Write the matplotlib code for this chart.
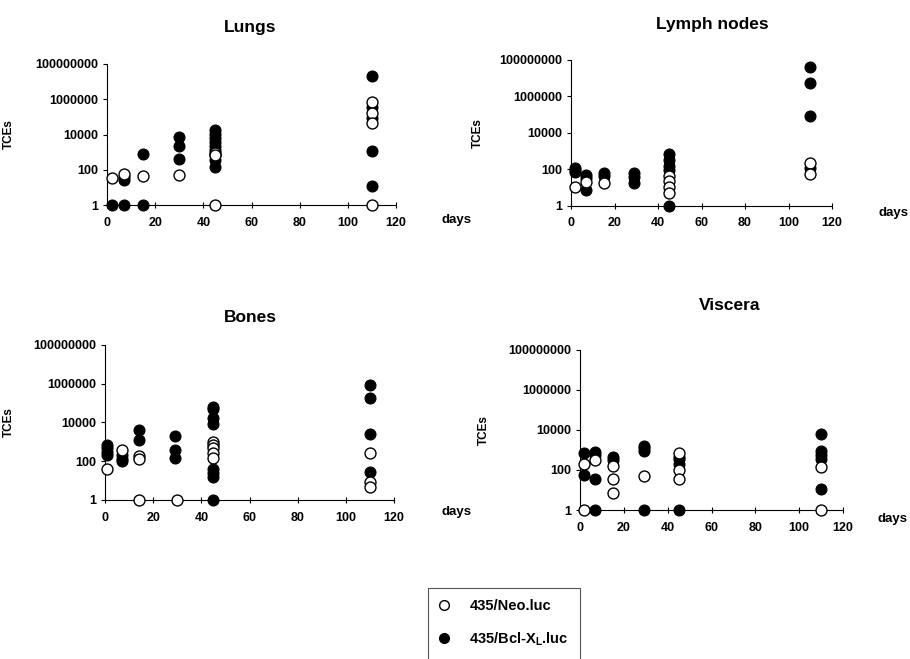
import matplotlib.pyplot as plt
from matplotlib.patches import Rectangle
from matplotlib.lines import Line2D

plt.rcParams['font.family'] = ['Liberation Sans', 'DejaVu Sans']
plt.rcParams['font.weight'] = 'bold'
plt.rcParams['mathtext.fontset'] = 'custom'
plt.rcParams['mathtext.rm'] = 'Liberation Sans:bold'
plt.rcParams['mathtext.bf'] = 'Liberation Sans:bold'

# values are log10(TCEs)
lungs_neo_days = [2, 7, 15, 30, 45, 45, 45, 110, 110, 110, 110]
lungs_neo_log = [1.55, 1.76, 1.65, 1.70, 2.95, 2.85, 0.0, 5.85, 5.20, 4.63, 0.0]
lungs_bcl_days = [2, 7, 7, 7, 15, 15, 30, 30, 30,
                  45, 45, 45, 45, 45, 45, 45, 45, 45, 110, 110, 110, 110, 110]
lungs_bcl_log = [0.0, 1.57, 1.42, 0.0, 2.89, 0.0, 3.87, 3.36, 2.59,
                 4.25, 4.02, 3.80, 3.57, 3.34, 3.12, 2.83, 2.55, 2.15, 7.31, 5.57, 4.91, 3.08, 1.08]

lymph_neo_days = [2, 7, 15, 45, 45, 45, 45, 110, 110]
lymph_neo_log = [1.05, 1.32, 1.26, 1.63, 1.35, 1.02, 0.68, 2.33, 1.74]
lymph_bcl_days = [2, 2, 2, 7, 7, 7, 15, 15, 29, 29, 29,
                  45, 45, 45, 45, 45, 110, 110, 110, 110]
lymph_bcl_log = [2.05, 1.95, 1.85, 1.69, 1.50, 0.86, 1.81, 1.63, 1.78, 1.59, 1.26,
                 2.84, 2.52, 2.20, 1.96, 0.0, 7.64, 6.73, 4.93, 2.05]

bones_neo_days = [1, 7, 14, 14, 14, 30, 45, 45, 45, 45, 45, 110, 110, 110]
bones_neo_log = [1.60, 2.58, 2.29, 2.12, 0.0, 0.0, 3.01, 2.84, 2.67, 2.45, 2.15, 2.41, 0.95, 0.69]
bones_bcl_days = [1, 1, 1, 1, 7, 7, 7, 14, 14, 29, 29, 29,
                  45, 45, 45, 45, 45, 45, 45, 45, 110, 110, 110, 110]
bones_bcl_log = [2.84, 2.67, 2.50, 2.33, 2.33, 2.10, 2.00, 3.62, 3.10, 3.31, 2.58, 2.15,
                 4.82, 4.70, 4.22, 3.91, 1.59, 1.41, 1.20, 0.0, 5.94, 5.26, 3.40, 1.46]

visc_neo_days = [2, 2, 7, 15, 15, 15, 29, 45, 45, 45, 110, 110]
visc_neo_log = [2.28, 0.0, 2.50, 2.20, 1.55, 0.83, 1.70, 2.87, 2.00, 1.57, 2.17, 0.0]
visc_bcl_days = [2, 2, 7, 7, 7, 7, 15, 15, 29, 29, 29, 29,
                 45, 45, 45, 45, 110, 110, 110, 110, 110]
visc_bcl_log = [2.83, 1.75, 2.92, 2.75, 1.55, 0.0, 2.67, 2.50, 3.20, 3.08, 2.97, 0.0,
                2.67, 2.53, 2.30, 0.0, 3.80, 2.97, 2.75, 2.53, 1.03]

x_ticks = [0, 20, 40, 60, 80, 100, 120]
y_ticks = [1, 100, 10000, 1000000, 100000000]
y_tick_labels = ['1', '100', '10000', '1000000', '100000000']

fig = plt.figure(figsize=(9.1, 6.59), dpi=100)

panels = [
    # title, rect, neo, bcl, ylabel x, days pos, title pos
    ('Lungs', [0.1176, 0.6889, 0.3176, 0.2140],
     (lungs_neo_days, lungs_neo_log), (lungs_bcl_days, lungs_bcl_log),
     -0.318, (1.208, -0.106), (0.495, 1.26)),
    ('Lymph nodes', [0.6275, 0.6879, 0.2868, 0.2211],
     (lymph_neo_days, lymph_neo_log), (lymph_bcl_days, lymph_bcl_log),
     -0.333, (1.235, -0.05), (0.54, 1.245)),
    ('Bones', [0.1154, 0.2413, 0.3176, 0.2352],
     (bones_neo_days, bones_neo_log), (bones_bcl_days, bones_bcl_log),
     -0.311, (1.215, -0.077), (0.502, 1.18)),
    ('Viscera', [0.6374, 0.2261, 0.2890, 0.2428],
     (visc_neo_days, visc_neo_log), (visc_bcl_days, visc_bcl_log),
     -0.342, (1.19, -0.056), (0.57, 1.275)),
]

for title, rect, neo, bcl, ylab_x, days_pos, title_pos in panels:
    ax = fig.add_axes(rect)
    ax.set_yscale('log')
    ax.set_xlim(0, 120)
    ax.set_ylim(1, 1e8)
    ax.scatter(bcl[0], [10 ** v for v in bcl[1]], s=62, c='black',
               edgecolors='black', linewidths=0.8, clip_on=False, zorder=3)
    ax.scatter(neo[0], [10 ** v for v in neo[1]], s=62, c='white',
               edgecolors='black', linewidths=1.0, clip_on=False, zorder=4)
    ax.spines['top'].set_visible(False)
    ax.spines['right'].set_visible(False)
    ax.spines['left'].set_linewidth(0.8)
    ax.spines['bottom'].set_linewidth(0.8)
    ax.set_xticks(x_ticks)
    ax.set_xticklabels([str(t) for t in x_ticks])
    ax.set_yticks(y_ticks)
    ax.set_yticklabels(y_tick_labels)
    ax.minorticks_off()
    ax.tick_params(axis='both', labelsize=9, length=3, width=0.8)
    ax.tick_params(axis='x', direction='inout', length=5, pad=6)
    ax.set_ylabel('TCEs', fontsize=8.5, fontweight='bold')
    ax.yaxis.set_label_coords(ylab_x, 0.5)
    ax.text(days_pos[0], days_pos[1], 'days', transform=ax.transAxes,
            fontsize=9.5, fontweight='bold', ha='center', va='center')
    ax.text(title_pos[0], title_pos[1], title, transform=ax.transAxes,
            fontsize=12.5, fontweight='bold', ha='center', va='center')

# legend box runs off the bottom of the figure
fig.add_artist(Rectangle((428 / 910, -0.02), 152 / 910, 0.02 + 71 / 659,
                         transform=fig.transFigure, facecolor='white',
                         edgecolor='#555555', linewidth=0.8))
handles = [
    Line2D([], [], linestyle='none', marker='o', markersize=7,
           markerfacecolor='white', markeredgecolor='black'),
    Line2D([], [], linestyle='none', marker='o', markersize=7,
           markerfacecolor='black', markeredgecolor='black'),
]
fig.legend(handles, ['435/Neo.luc', r'435/Bcl-X$_{\mathbf{L}}$.luc'],
           loc='upper left', bbox_to_anchor=(422 / 910, 1 - 586 / 659),
           frameon=False, labelspacing=1.15, handletextpad=1.15,
           handlelength=1.2, prop={'weight': 'bold', 'size': 10.5})

fig.savefig('out.png', dpi=100)
